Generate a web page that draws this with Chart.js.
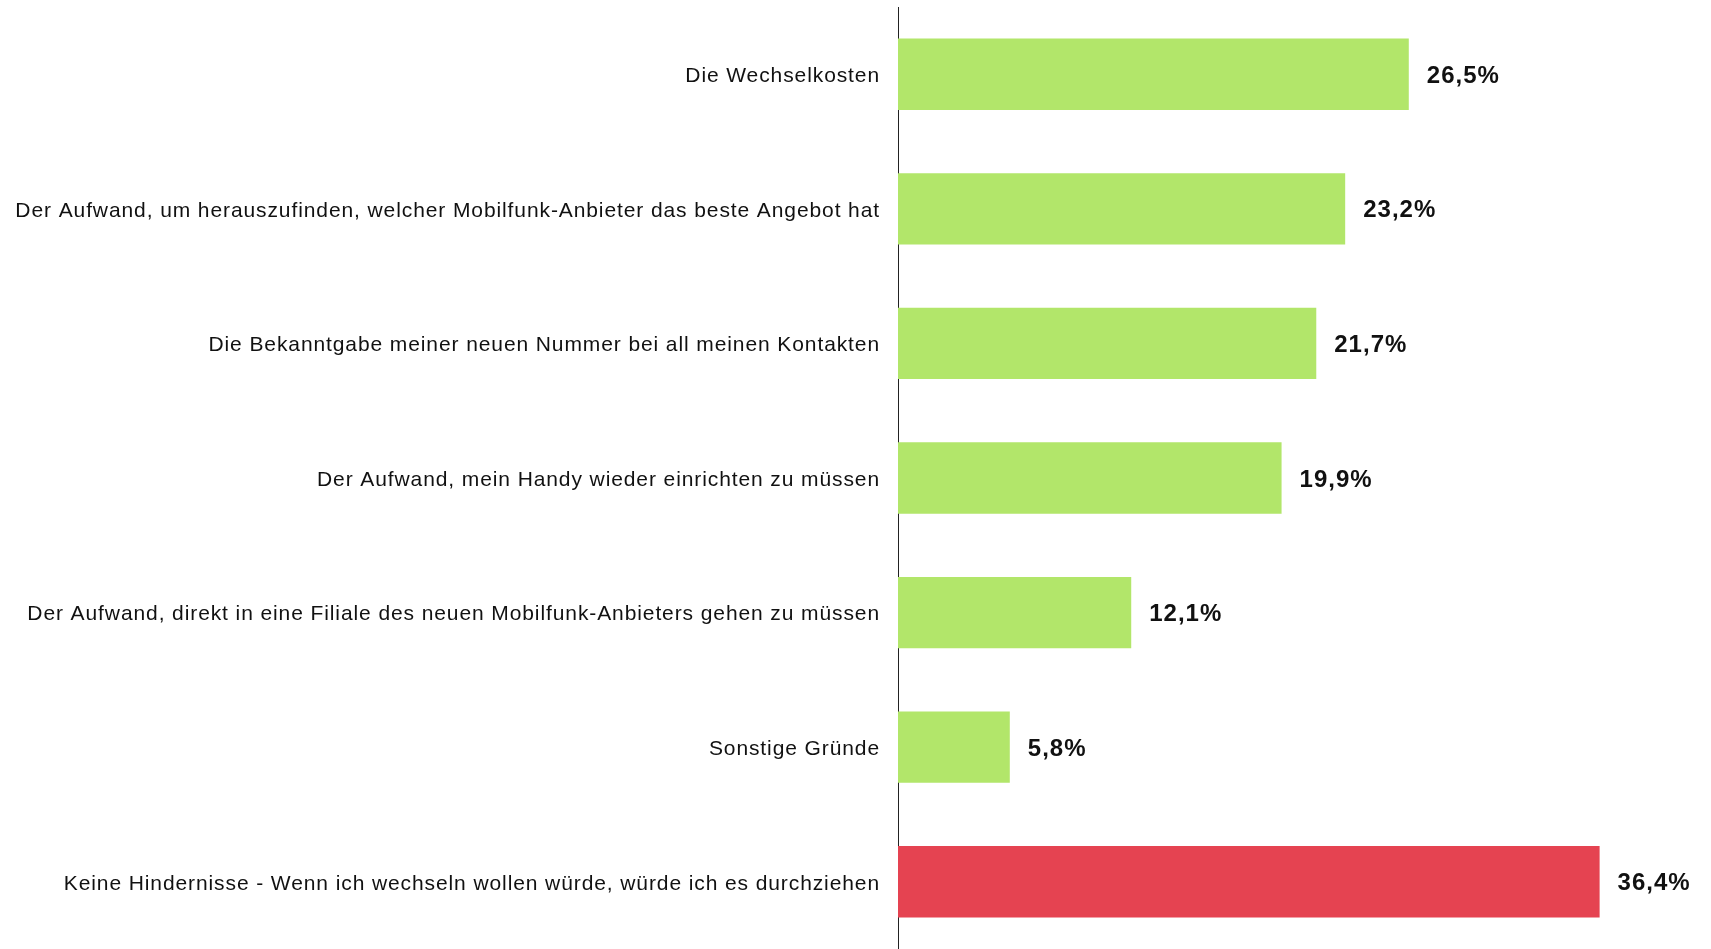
<!DOCTYPE html>
<html lang="de">
<head>
<meta charset="utf-8">
<title>Hindernisse beim Anbieterwechsel</title>
<script src="https://cdn.jsdelivr.net/npm/chart.js@4/dist/chart.umd.min.js"></script>
<style>
  html, body { margin:0; padding:0; background:#fff; }
  #wrap { width:1711px; height:949px; position:relative; }
</style>
</head>
<body>
<div id="wrap"><canvas id="chart"></canvas></div>
<script>
// ---- Daten -----------------------------------------------------------------
const kategorien = [
  "Die Wechselkosten",
  "Der Aufwand, um herauszufinden, welcher Mobilfunk-Anbieter das beste Angebot hat",
  "Die Bekanntgabe meiner neuen Nummer bei all meinen Kontakten",
  "Der Aufwand, mein Handy wieder einrichten zu müssen",
  "Der Aufwand, direkt in eine Filiale des neuen Mobilfunk-Anbieters gehen zu müssen",
  "Sonstige Gründe",
  "Keine Hindernisse - Wenn ich wechseln wollen würde, würde ich es durchziehen"
];
const anteile = [26.5, 23.2, 21.7, 19.9, 12.1, 5.8, 36.4];

// ---- Stil ------------------------------------------------------------------
const GRUEN = "#b2e66a", ROT = "#e54351";
const farben = kategorien.map((_, i) => i === kategorien.length - 1 ? ROT : GRUEN);
const fmt = v => v.toFixed(1).replace(".", ",") + "%";

// leicht gesperrte Schrift wie im Original
const sperrung = {
  id: "sperrung",
  beforeDraw(chart){ chart.ctx.letterSpacing = "0.9px"; },
  afterDraw(chart){ chart.ctx.letterSpacing = "0px"; }
};

// Werte rechts neben den Balken
const wertLabels = {
  id: "wertLabels",
  afterDatasetsDraw(chart){
    const ctx = chart.ctx;
    const meta = chart.getDatasetMeta(0);
    ctx.save();
    ctx.letterSpacing = "1px";
    ctx.font = "bold 24px 'Liberation Sans', Arial, sans-serif";
    ctx.fillStyle = "#111";
    ctx.textAlign = "left";
    ctx.textBaseline = "middle";
    meta.data.forEach((bar, i) => {
      ctx.fillText(fmt(anteile[i]), bar.x + 18, bar.y + 2);
    });
    ctx.restore();
  }
};

new Chart(document.getElementById("chart"), {
  type: "bar",
  data: {
    labels: kategorien,
    datasets: [{
      data: anteile,
      backgroundColor: farben,
      borderWidth: 0,
      categoryPercentage: 1,
      barPercentage: 0.53
    }]
  },
  options: {
    indexAxis: "y",
    responsive: true,
    maintainAspectRatio: false,
    animation: false,
    layout: { padding: { top: 7, right: 42, bottom: 0, left: 0 } },
    plugins: { legend: { display: false }, tooltip: { enabled: false } },
    scales: {
      x: { display: false, min: 0, max: 40 },
      y: {
        afterFit: s => { s.width = 898; s.paddingTop = 0; s.paddingBottom = 0; },
        grid: { display: false, drawTicks: false },
        border: { display: true, color: "#222", width: 1 },
        ticks: {
          padding: 18,
          labelOffset: 2,
          color: "#111",
          font: { family: "'Liberation Sans', Arial, sans-serif", size: 21 }
        }
      }
    }
  },
  plugins: [sperrung, wertLabels]
});
</script>
</body>
</html>
